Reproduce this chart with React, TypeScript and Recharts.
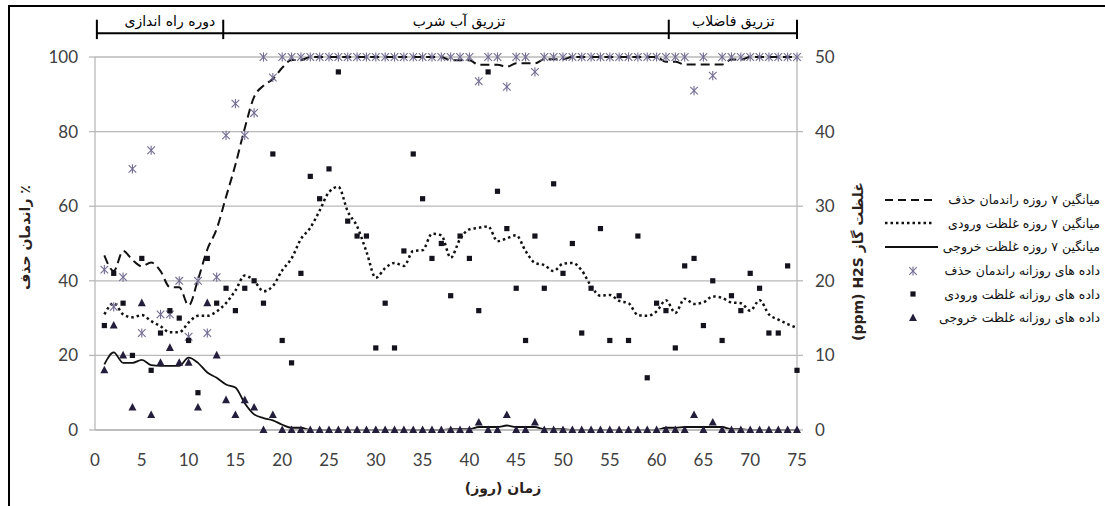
import React from 'react';
import { ComposedChart, Line, Scatter, XAxis, YAxis, CartesianGrid, ReferenceLine, ReferenceDot } from 'recharts';

// days of the run
const days = [
  1, 2, 3, 4, 5, 6, 7, 8, 9, 10, 11, 12, 13, 14, 15, 16, 17, 18, 19, 20,
  21, 22, 23, 24, 25, 26, 27, 28, 29, 30, 31, 32, 33, 34, 35, 36, 37, 38, 39, 40,
  41, 42, 43, 44, 45, 46, 47, 48, 49, 50, 51, 52, 53, 54, 55, 56, 57, 58, 59, 60,
  61, 62, 63, 64, 65, 66, 67, 68, 69, 70, 71, 72, 73, 74, 75,
];

// daily removal efficiency (%)
const removalDaily = [
  43, 33, 41, 70, 26, 75, 31, 31, 40, 25,
  40, 26, 41, 79, 87.5, 79, 85, 100, 94.5, 100,
  100, 100, 100, 100, 100, 100, 100, 100, 100, 100,
  100, 100, 100, 100, 100, 100, 100, 100, 100, 100,
  93.5, 100, 100, 92, 100, 100, 96, 100, 100, 100,
  100, 100, 100, 100, 100, 100, 100, 100, 100, 100,
  100, 100, 100, 91, 100, 95, 100, 100, 100, 100,
  100, 100, 100, 100, 100,
];

// daily inlet H2S (ppm)
const inletDaily = [
  14, 21, 17, 10, 23, 8, 13, 16, 15, 12,
  5, 23, 17, 19, 16, 19, 20, 17, 37, 12,
  9, 21, 34, 31, 35, 48, 28, 26, 26, 11,
  17, 11, 24, 37, 31, 23, 25, 18, 26, 23,
  16, 48, 32, 27, 19, 12, 26, 19, 33, 21,
  25, 13, 19, 27, 12, 18, 12, 26, 7, 17,
  16, 11, 22, 23, 14, 20, 12, 18, 16, 21,
  19, 13, 13, 22, 8,
];

// daily outlet H2S (ppm)
const outletDaily = [
  8, 14, 10, 3, 17, 2, 9, 11, 9, 9,
  3, 17, 10, 4, 2, 4, 3, 0, 2, 0,
  0, 0, 0, 0, 0, 0, 0, 0, 0, 0,
  0, 0, 0, 0, 0, 0, 0, 0, 0, 0,
  1, 0, 0, 2, 0, 0, 1, 0, 0, 0,
  0, 0, 0, 0, 0, 0, 0, 0, 0, 0,
  0, 0, 0, 2, 0, 1, 0, 0, 0, 0,
  0, 0, 0, 0, 0,
];

// 7-day average curves
const removalAvg = [
  46.8, 42.6, 48.0, 45.6, 43.9, 44.9, 42.6, 38.3, 38.3, 33.4,
  40.3, 48.4, 53.9, 62.5, 71.1, 80.9, 89.3, 92.3, 94.1, 97.1,
  99.2, 99.2, 100, 100, 100, 100, 100, 100, 100, 100,
  100, 100, 100, 100, 100, 100, 100, 99.1, 99.1, 99.1,
  97.9, 97.9, 97.9, 97.4, 98.3, 98.3, 98.3, 99.4, 99.4, 99.4,
  100, 100, 100, 100, 100, 100, 100, 100, 100, 100,
  98.7, 98.7, 98.0, 98.0, 98.0, 98.0, 98.0, 99.3, 99.3, 100,
  100, 100, 100, 100, 100,
];

const inletAvg = [
  15.5, 17.0, 15.5, 15.1, 15.4, 14.6, 13.9, 13.1, 13.1, 14.4,
  15.3, 15.3, 15.9, 17.0, 18.7, 20.7, 20.0, 18.6, 19.3, 21.4,
  23.0, 25.6, 27.1, 29.4, 31.9, 32.6, 29.3, 27.3, 23.9, 20.4,
  21.7, 22.4, 22.0, 24.0, 24.1, 26.3, 26.1, 23.1, 25.6, 26.9,
  27.1, 27.3, 25.3, 25.7, 26.1, 24.0, 22.4, 22.1, 21.3, 22.3,
  22.4, 21.4, 19.3, 18.0, 18.1, 17.3, 17.0, 15.4, 15.3, 15.9,
  17.4, 15.7, 17.6, 16.9, 17.1, 17.9, 17.7, 17.1, 17.0, 16.0,
  17.4, 15.5, 14.8, 14.2, 13.7,
];

const outletAvg = [
  8.8, 10.4, 9.0, 9.0, 9.4, 8.7, 8.6, 8.6, 8.6, 9.7,
  9.0, 7.7, 7.0, 6.1, 5.7, 3.6, 2.1, 1.6, 1.3, 0.7,
  0.3, 0.3, 0, 0, 0, 0, 0, 0, 0, 0,
  0, 0, 0, 0, 0, 0, 0, 0.1, 0.1, 0.1,
  0.4, 0.4, 0.4, 0.6, 0.4, 0.4, 0.4, 0.1, 0.1, 0.1,
  0, 0, 0, 0, 0, 0, 0, 0, 0, 0,
  0.3, 0.3, 0.4, 0.4, 0.4, 0.4, 0.4, 0.1, 0.1, 0,
  0, 0, 0, 0, 0,
];

const dayTicks = [0, 5, 10, 15, 20, 25, 30, 35, 40, 45, 50, 55, 60, 65, 70, 75];
const leftTicks = [0, 20, 40, 60, 80, 100];
const rightTicks = [0, 10, 20, 30, 40, 50];

const phaseLabels = ['دوره راه اندازی', 'تزریق آب شرب', 'تزریق فاضلاب'];
const phaseEdges = [0.2, 13.7, 61.3, 75];
const phaseLabelDays = [8, 38.9, 68.2];

const legendLabels = [
  'میانگین ۷ روزه راندمان حذف',
  'میانگین ۷ روزه غلظت ورودی',
  'میانگین ۷ روزه غلظت خروجی',
  'داده های روزانه راندمان حذف',
  'داده های روزانه غلظت ورودی',
  'داده های روزانه غلظت خروجی',
];

const data = days.map((day, i) => ({
  day,
  removal: removalDaily[i],
  inlet: inletDaily[i],
  outlet: outletDaily[i],
  removalAvg: removalAvg[i],
  inletAvg: inletAvg[i],
  outletAvg: outletAvg[i],
}));

const GRID = '#b9b9b9';
const TICK_FONT = 'Lato, "Open Sans", sans-serif';
const AR_FONT = '"DejaVu Sans", sans-serif';
const STAR = '#746c93';

const StarMark = (props: any) => {
  const { cx, cy } = props;
  if (cx == null || cy == null) return null;
  const s = 3.8;
  return (
    <g stroke={STAR} strokeWidth={1.1}>
      <line x1={cx - s} y1={cy - s} x2={cx + s} y2={cy + s} />
      <line x1={cx - s} y1={cy + s} x2={cx + s} y2={cy - s} />
      <line x1={cx} y1={cy - s - 0.8} x2={cx} y2={cy + s + 0.8} />
    </g>
  );
};

const SquareMark = (props: any) => {
  const { cx, cy } = props;
  if (cx == null || cy == null) return null;
  return <rect x={cx - 2.6} y={cy - 2.6} width={5.2} height={5.2} fill="#14121c" />;
};

const TriangleMark = (props: any) => {
  const { cx, cy } = props;
  if (cx == null || cy == null) return null;
  return <polygon points={`${cx},${cy - 4.6} ${cx - 4},${cy + 3} ${cx + 4},${cy + 3}`} fill="#241d3c" />;
};

const LeftTitle = ({ viewBox }: any) => {
  const x = viewBox.x - 15;
  const y = viewBox.y + viewBox.height / 2 - 6;
  return (
    <text x={x} y={y} transform={`rotate(-90 ${x} ${y})`} textAnchor="middle" dominantBaseline="central"
      fontFamily={AR_FONT} fontWeight="bold" fontSize={14} fill="#2b221c">
      راندمان حذف ٪
    </text>
  );
};

const RightTitle = ({ viewBox }: any) => {
  const x = viewBox.x + 61;
  const y = viewBox.y + viewBox.height / 2 + 18;
  return (
    <text x={x} y={y} transform={`rotate(-90 ${x} ${y})`} textAnchor="middle" dominantBaseline="central"
      fontFamily={AR_FONT} fontWeight="bold" fontSize={14} fill="#2b221c">
      (ppm) H2S غلظت گاز
    </text>
  );
};

const BottomTitle = ({ viewBox }: any) => {
  const x = viewBox.x + viewBox.width / 2 + 57;
  const y = viewBox.y + 58;
  return (
    <text x={x} y={y} textAnchor="middle" dominantBaseline="central"
      fontFamily={AR_FONT} fontWeight="bold" fontSize={14} fill="#2b221c">
      زمان (روز)
    </text>
  );
};

const LegendIcon = ({ index }: { index: number }) => {
  if (index === 0) return <line x1={5} y1={7} x2={52} y2={7} stroke="#111" strokeWidth={2} strokeDasharray="8 5" />;
  if (index === 1) return <line x1={5} y1={7} x2={52} y2={7} stroke="#111" strokeWidth={2.5} strokeDasharray="2.5 3" />;
  if (index === 2) return <line x1={5} y1={7} x2={58} y2={7} stroke="#111" strokeWidth={2} />;
  if (index === 3) return <StarMark cx={33} cy={7} />;
  if (index === 4) return <SquareMark cx={33} cy={7} />;
  return <TriangleMark cx={33} cy={7} />;
};

export default function App() {
  return (
    <div style={{ position: 'relative', width: 1105, height: 506, background: '#fff', overflow: 'hidden' }}>
      <style>{'body{margin:0}'}</style>
      <div style={{ position: 'absolute', left: 8, top: 5, right: -10, bottom: -10, borderTop: '2px solid #000', borderLeft: '2px solid #000' }} />
      <ComposedChart width={1105} height={506} data={data} margin={{ top: 57, right: 228, bottom: 10, left: 40 }}>
        <CartesianGrid yAxisId="left" vertical={false} stroke={GRID} strokeWidth={1.3} />
        <XAxis
          dataKey="day"
          type="number"
          domain={[0, 75]}
          ticks={dayTicks}
          height={66}
          axisLine={{ stroke: GRID, strokeWidth: 1.3 }}
          tickLine={false}
          tickSize={6}
          tickMargin={18}
          tick={{ fill: '#404040', fontSize: 17, fontFamily: TICK_FONT }}
          label={<BottomTitle />}
        />
        <YAxis
          yAxisId="left"
          domain={[0, 100]}
          ticks={leftTicks}
          width={55}
          axisLine={{ stroke: GRID, strokeWidth: 1.3 }}
          tickLine={{ stroke: GRID, strokeWidth: 1.3 }}
          tickSize={6}
          tickMargin={11}
          tick={{ fill: '#404040', fontSize: 17, fontFamily: TICK_FONT }}
          label={<LeftTitle />}
        />
        <YAxis
          yAxisId="right"
          orientation="right"
          domain={[0, 50]}
          ticks={rightTicks}
          width={80}
          axisLine={{ stroke: GRID, strokeWidth: 1.3 }}
          tickLine={{ stroke: GRID, strokeWidth: 1.3 }}
          tickSize={6}
          tickMargin={12}
          tick={{ fill: '#404040', fontSize: 17, fontFamily: TICK_FONT }}
          label={<RightTitle />}
        />

        <ReferenceLine
          yAxisId="left"
          ifOverflow="visible"
          segment={[{ x: phaseEdges[0], y: 106.4 }, { x: phaseEdges[phaseEdges.length - 1], y: 106.4 }]}
          stroke="#000"
          strokeWidth={2}
        />
        {phaseEdges.map((e) => (
          <ReferenceLine
            key={`edge-${e}`}
            yAxisId="left"
            ifOverflow="visible"
            segment={[{ x: e, y: 104.8 }, { x: e, y: 110 }]}
            stroke="#000"
            strokeWidth={2}
          />
        ))}
        {phaseLabels.map((lab, i) => (
          <ReferenceDot
            key={lab}
            yAxisId="left"
            x={phaseLabelDays[i]}
            y={109.6}
            r={1}
            fill="none"
            stroke="none"
            ifOverflow="visible"
            label={{ value: lab, position: 'center', fill: '#000', fontSize: 14, fontFamily: AR_FONT }}
          />
        ))}

        <Line yAxisId="left" dataKey="removalAvg" type="monotone" stroke="#111" strokeWidth={2} strokeDasharray="9 5" dot={false} isAnimationActive={false} />
        <Line yAxisId="right" dataKey="inletAvg" type="monotone" stroke="#111" strokeWidth={2.5} strokeDasharray="2.5 3" dot={false} isAnimationActive={false} />
        <Line yAxisId="right" dataKey="outletAvg" type="monotone" stroke="#111" strokeWidth={1.8} dot={false} isAnimationActive={false} />

        <Scatter yAxisId="left" dataKey="removal" shape={StarMark} isAnimationActive={false} />
        <Scatter yAxisId="right" dataKey="inlet" shape={SquareMark} isAnimationActive={false} />
        <Scatter yAxisId="right" dataKey="outlet" shape={TriangleMark} isAnimationActive={false} />
      </ComposedChart>

      <div style={{ position: 'absolute', left: 880, top: 188, width: 220 }}>
        {legendLabels.map((lab, i) => (
          <div key={lab} style={{ display: 'flex', alignItems: 'center', height: 23.6 }}>
            <svg width={60} height={14} style={{ flex: 'none' }}>
              <LegendIcon index={i} />
            </svg>
            <div dir="rtl" style={{ flex: 1, minWidth: 0, textAlign: 'right', fontFamily: AR_FONT, fontSize: 12.5, color: '#111', whiteSpace: 'nowrap' }}>
              {lab}
            </div>
          </div>
        ))}
      </div>
    </div>
  );
}
